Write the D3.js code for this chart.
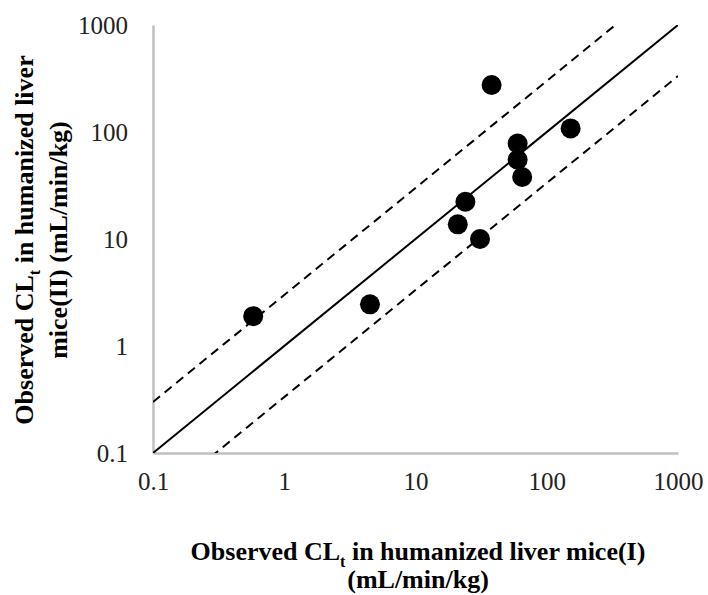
<!DOCTYPE html>
<html>
<head>
<meta charset="utf-8">
<script src="https://cdn.jsdelivr.net/npm/d3@7"></script>
<style>
  body { margin: 0; background: #fff; }
  svg { display: block; }
  .tick text { font-family: "Liberation Serif", serif; }
  .lab { font-family: "Liberation Serif", serif; font-weight: bold; fill: #000; }
</style>
</head>
<body>
<div id="chart"></div>
<script>
// observed CLt, mouse group I (x) vs group II (y), mL/min/kg
var clI  = [0.58, 4.5, 38, 152, 60, 60, 65, 24, 21, 31];
var clII = [1.9, 2.45, 275, 108, 78, 55, 38, 22.3, 13.7, 10];
var tickVals = [0.1, 1, 10, 100, 1000];
var tickLabels = ["0.1", "1", "10", "100", "1000"];
// identity line and 3-fold lines
var foldLines = [
  {fold: 1, dash: null},
  {fold: 3, dash: "9,6"},
  {fold: 1 / 3, dash: "9,6"}
];

var W = 708, H = 595;
var mLeft = 153, mRight = 678, mTop = 25, mBottom = 453;

var svg = d3.select("#chart").append("svg").attr("width", W).attr("height", H);

var x = d3.scaleLog().domain([0.1, 1000]).range([mLeft, mRight]);
var y = d3.scaleLog().domain([0.1, 1000]).range([mBottom, mTop]);

// axes
var xAxis = d3.axisBottom(x).tickValues(tickVals).tickSize(0).tickPadding(19)
  .tickFormat(function(d, i) { return tickLabels[i]; });
var yAxis = d3.axisLeft(y).tickValues(tickVals).tickSize(0).tickPadding(25)
  .tickFormat(function(d, i) { return tickLabels[i]; });

var gx = svg.append("g").attr("transform", "translate(0," + mBottom + ")").call(xAxis);
var gy = svg.append("g").attr("transform", "translate(" + mLeft + ",0)").call(yAxis);
[gx, gy].forEach(function(g) {
  g.select(".domain").attr("stroke", "#bfbfbf").attr("stroke-width", 2.5);
  g.selectAll(".tick text").attr("font-size", 25).attr("fill", "#222");
});
gy.selectAll(".tick text").attr("dy", "0.35em");

// fold lines clipped to plot
svg.append("clipPath").attr("id", "plotclip").append("rect")
  .attr("x", mLeft).attr("y", mTop).attr("width", mRight - mLeft).attr("height", mBottom - mTop);

var line = d3.line().x(function(d) { return x(d[0]); }).y(function(d) { return y(d[1]); });
svg.append("g").attr("clip-path", "url(#plotclip)").selectAll("path")
  .data(foldLines).enter().append("path")
  .attr("d", function(f) {
    var x0 = 0.1, x1 = 1000;
    return line([[x0, x0 * f.fold], [x1, x1 * f.fold]]);
  })
  .attr("fill", "none")
  .attr("stroke", "#000")
  .attr("stroke-width", 2)
  .attr("stroke-dasharray", function(f) { return f.dash; });

// points
svg.append("g").selectAll("circle")
  .data(clI).enter().append("circle")
  .attr("cx", function(d) { return x(d); })
  .attr("cy", function(d, i) { return y(clII[i]); })
  .attr("r", 10)
  .attr("fill", "#000");

// axis titles
function title(g, main, rest) {
  var t = g.append("text").attr("class", "lab").attr("text-anchor", "middle");
  t.append("tspan").attr("font-size", 26).text(main);
  t.append("tspan").attr("font-size", 16).attr("dy", 7).text("t");
  t.append("tspan").attr("font-size", 26).attr("dy", -7).text(rest);
  return t;
}

var xt = svg.append("g").attr("transform", "translate(418,0)");
title(xt, "Observed CL", " in humanized liver mice(I)").attr("y", 560);
xt.append("text").attr("class", "lab").attr("text-anchor", "middle")
  .attr("font-size", 26).attr("y", 588).text("(mL/min/kg)");

var yt = svg.append("g").attr("transform", "translate(0,240) rotate(-90)");
title(yt, "Observed CL", " in humanized liver").attr("y", 33);
yt.append("text").attr("class", "lab").attr("text-anchor", "middle")
  .attr("font-size", 26).attr("y", 67).text("mice(II) (mL/min/kg)");
</script>
</body>
</html>
